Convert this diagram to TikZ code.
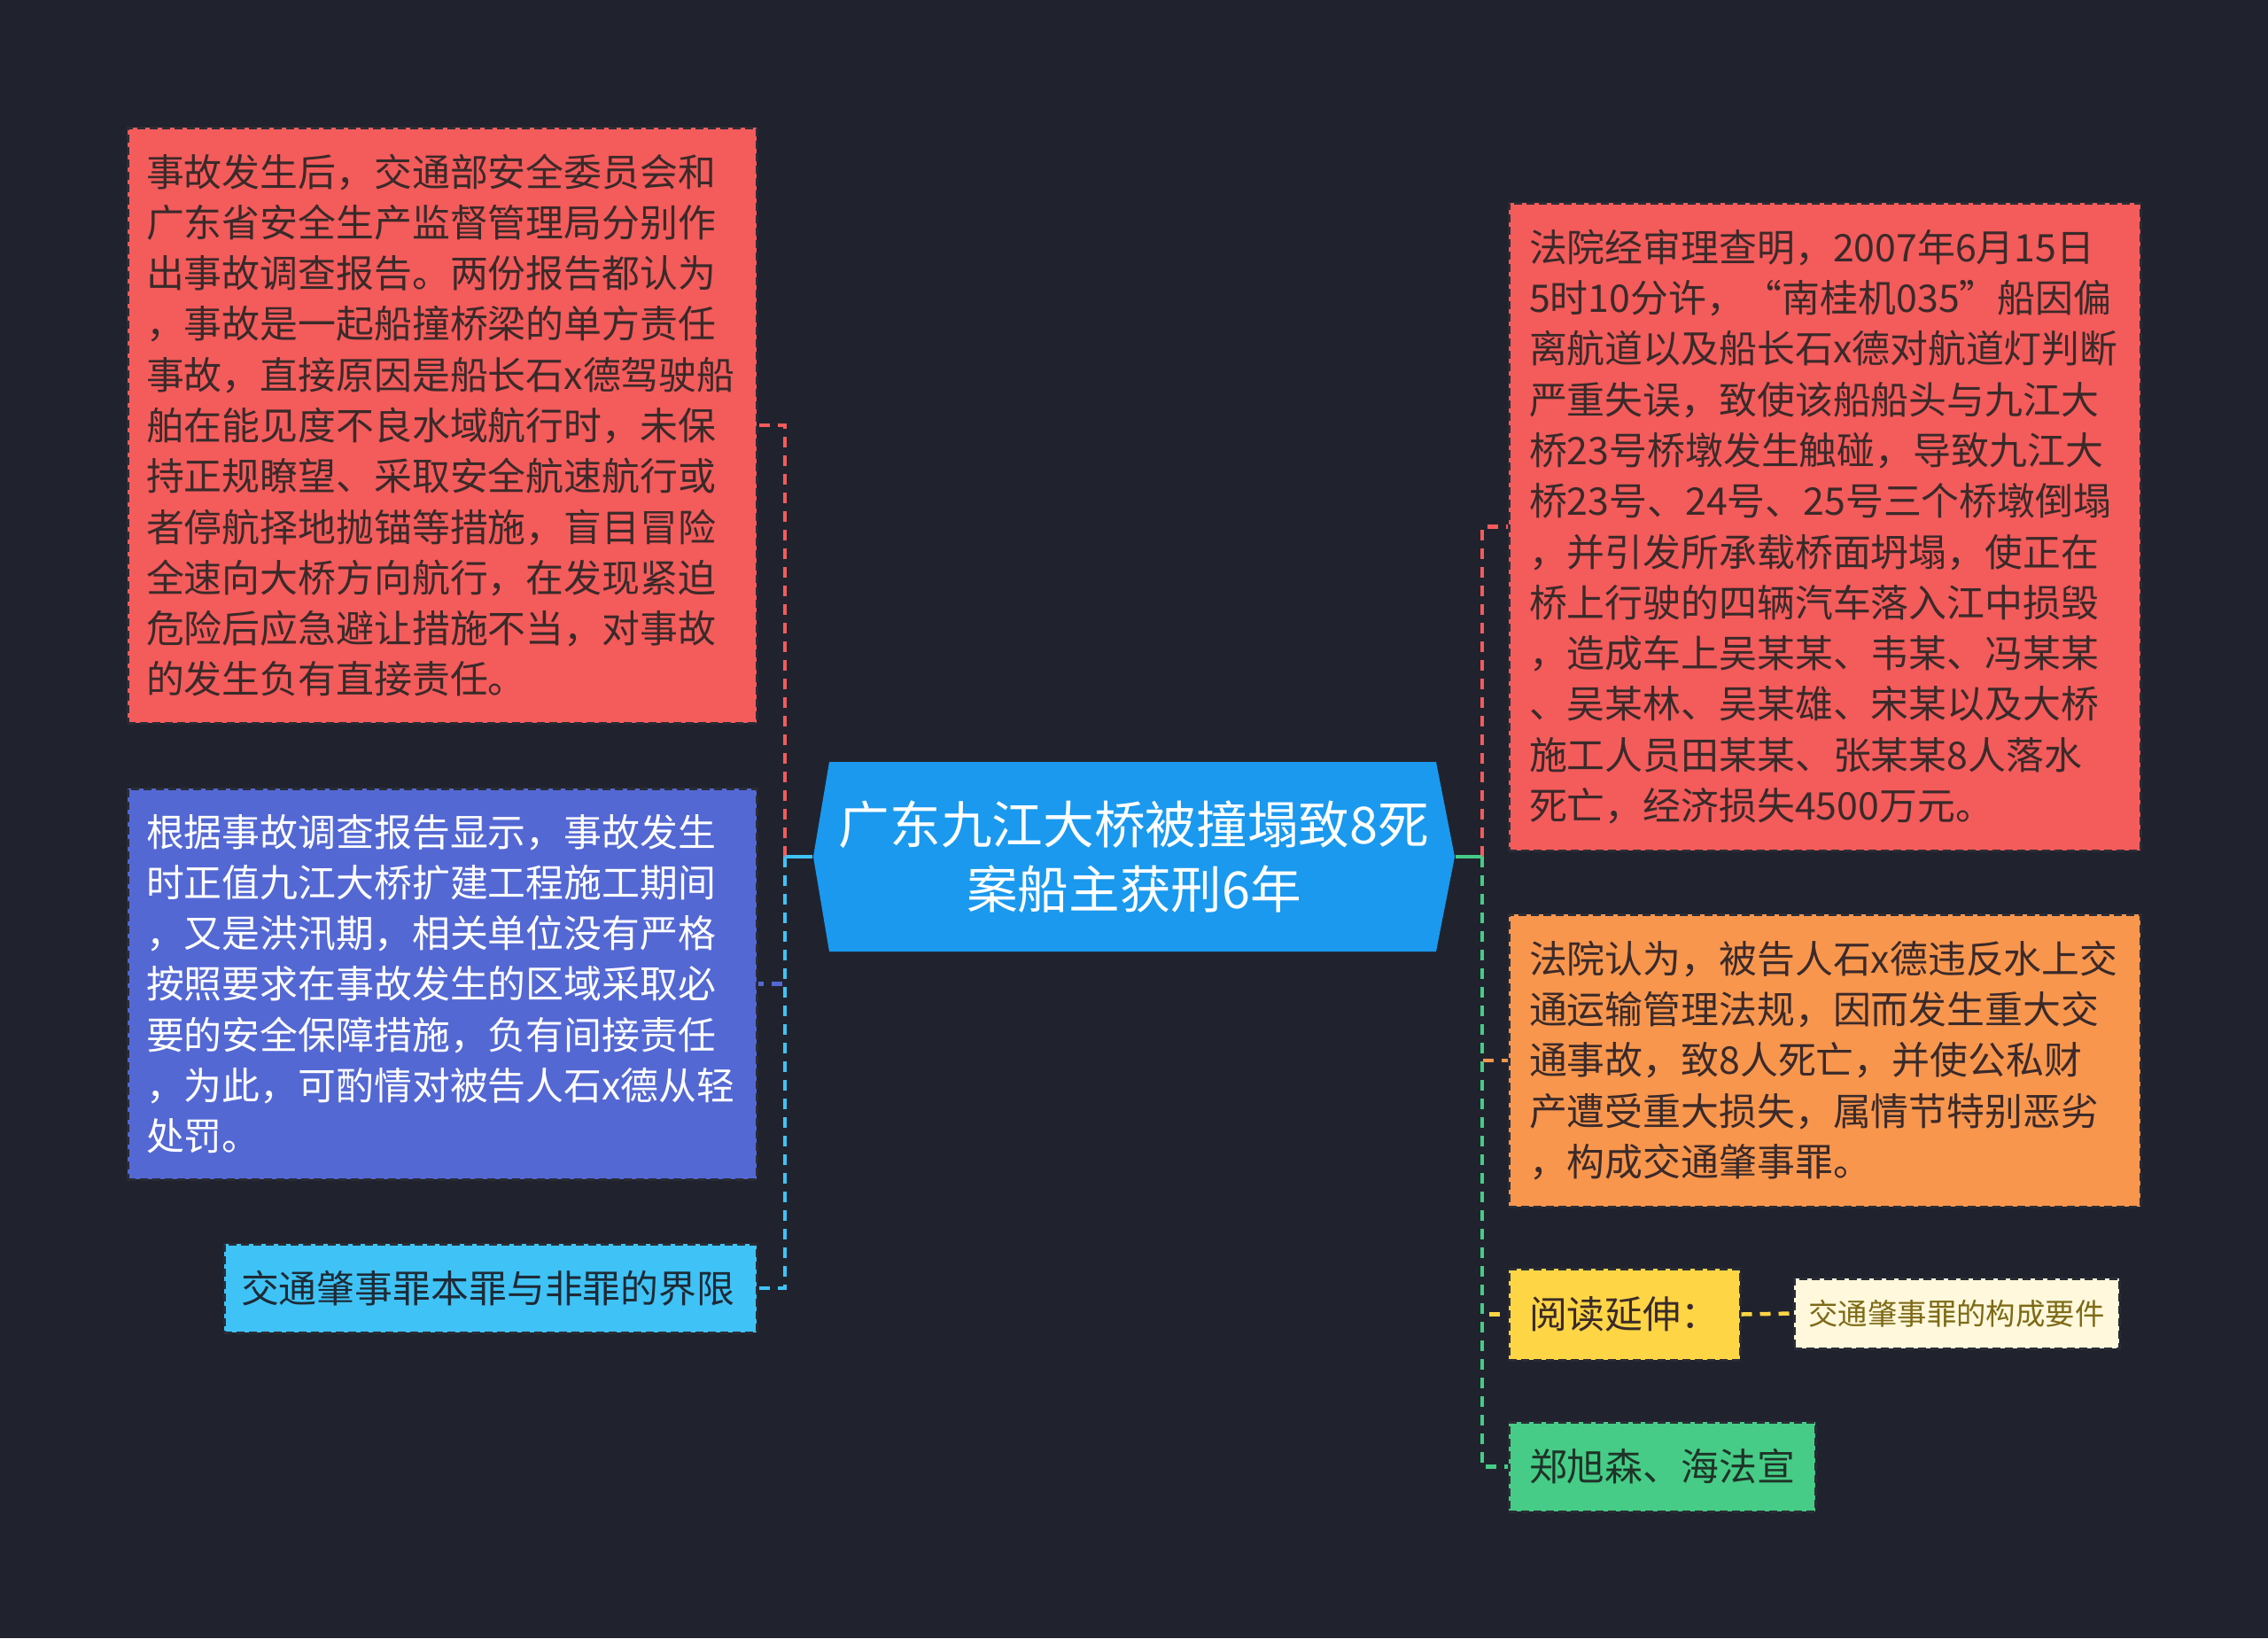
\documentclass[tikz,border=0pt]{standalone}
\usepackage{fontspec}
\setmainfont{Noto Sans CJK SC}
\definecolor{cBg}{HTML}{20232E}
\definecolor{cBorder}{HTML}{2A2C35}
\definecolor{cRed}{HTML}{F45B5B}
\definecolor{cPurple}{HTML}{5468D4}
\definecolor{cCyan}{HTML}{3FC3F6}
\definecolor{cBlue}{HTML}{1A99EE}
\definecolor{cOrange}{HTML}{F8964E}
\definecolor{cYellow}{HTML}{FDD545}
\definecolor{cCream}{HTML}{FFF8DC}
\definecolor{cGreen}{HTML}{46CC86}
\definecolor{tDark}{HTML}{3A2A2A}
\definecolor{tCream}{HTML}{7D6A16}
\definecolor{tCyan}{HTML}{1E2A36}
\definecolor{tGreen}{HTML}{1F3328}
\tikzset{
  box/.style={rectangle, inner xsep=0.21cm, inner ysep=0pt, align=left,
    draw=cBorder, line width=0.03cm, dash pattern=on 0.09cm off 0.05cm,
    font=\fontsize{12.2pt}{16.3pt}\selectfont},
  edgeline/.style={line width=0.045cm, dash pattern=on 0.12cm off 0.09cm},
  stubline/.style={line width=0.045cm},
}
\begin{document}
\begin{tikzpicture}
\fill[cBg] (0,0) rectangle (25.6,-18.49);
\useasboundingbox (0,0) rectangle (25.6,-18.49);

% central hexagon
\fill[cBlue] (9.18,-9.67) -- (9.36,-8.60) -- (16.21,-8.60) -- (16.42,-9.67) -- (16.21,-10.74) -- (9.36,-10.74) -- cycle;
\node[minimum width=7.24cm, minimum height=2.14cm, inner sep=0pt, align=center, text=white,
  font=\fontsize{16.4pt}{20.8pt}\selectfont] (c) at (12.80,-9.67) {广东九江大桥被撞塌致8死\\案船主获刑6年};

% left nodes
\node[box, fill=cRed, text=tDark, text width=6.68cm, minimum height=6.72cm] (L1) at (4.99,-4.80)
{事故发生后，交通部安全委员会和\\广东省安全生产监督管理局分别作\\出事故调查报告。两份报告都认为\\，事故是一起船撞桥梁的单方责任\\事故，直接原因是船长石x德驾驶船\\舶在能见度不良水域航行时，未保\\持正规瞭望、采取安全航速航行或\\者停航择地抛锚等措施，盲目冒险\\全速向大桥方向航行，在发现紧迫\\危险后应急避让措施不当，对事故\\的发生负有直接责任。};

\node[box, fill=cPurple, text=white, text width=6.68cm, minimum height=4.41cm] (L2) at (4.99,-11.105)
{根据事故调查报告显示，事故发生\\时正值九江大桥扩建工程施工期间\\，又是洪汛期，相关单位没有严格\\按照要求在事故发生的区域采取必\\要的安全保障措施，负有间接责任\\，为此，可酌情对被告人石x德从轻\\处罚。};

\node[box, fill=cCyan, text=tCyan, inner xsep=0.19cm, text width=5.63cm, minimum height=1.00cm] (L3) at (5.535,-14.54)
{交通肇事罪本罪与非罪的界限};

% right nodes
\node[box, fill=cRed, text=tDark, inner xsep=0.23cm, text width=6.67cm, minimum height=7.31cm] (R1) at (20.595,-5.945)
{法院经审理查明，2007年6月15日\\5时10分许，“南桂机035”船因偏\\离航道以及船长石x德对航道灯判断\\严重失误，致使该船船头与九江大\\桥23号桥墩发生触碰，导致九江大\\桥23号、24号、25号三个桥墩倒塌\\，并引发所承载桥面坍塌，使正在\\桥上行驶的四辆汽车落入江中损毁\\，造成车上吴某某、韦某、冯某某\\、吴某林、吴某雄、宋某以及大桥\\施工人员田某某、张某某8人落水\\死亡，经济损失4500万元。};

\node[box, fill=cOrange, text=tDark, inner xsep=0.23cm, text width=6.67cm, minimum height=3.30cm] (R2) at (20.595,-11.97)
{法院认为，被告人石x德违反水上交\\通运输管理法规，因而发生重大交\\通事故，致8人死亡，并使公私财\\产遭受重大损失，属情节特别恶劣\\，构成交通肇事罪。};

\node[box, fill=cYellow, text=tDark, inner xsep=0.23cm, text width=2.15cm, minimum height=1.03cm] (R3) at (18.335,-14.835)
{阅读延伸：};

\node[box, fill=cCream, text=tCream, align=center, inner xsep=0.1cm, minimum width=3.67cm, minimum height=0.79cm,
  font=\fontsize{9.5pt}{12pt}\selectfont] (R5) at (22.085,-14.825)
{交通肇事罪的构成要件};

\node[box, fill=cGreen, text=tGreen, inner xsep=0.23cm, text width=3.00cm, minimum height=1.01cm] (R4) at (18.76,-16.555)
{郑旭森、海法宣};

% trunks
\coordinate (lt) at (8.86,-9.67);
\coordinate (rt) at (16.73,-9.67);

\draw[edgeline, cRed] (lt) |- (L1.east);
\draw[edgeline, cPurple] (lt) |- (L2.east);
\draw[edgeline, cCyan] (lt) |- (L3.east);
\draw[stubline, cCyan] (c.west) -- (lt);

\draw[edgeline, cRed] (rt) |- (R1.west);
\draw[edgeline, cOrange] (rt) |- (R2.west);
\draw[edgeline, cYellow] (rt) |- (R3.west);
\draw[edgeline, cGreen] (rt) |- (R4.west);
\draw[stubline, cGreen] (c.east) -- (rt);

\draw[edgeline, cYellow] (R3.east) -- (R5.west);
\end{tikzpicture}
\end{document}
